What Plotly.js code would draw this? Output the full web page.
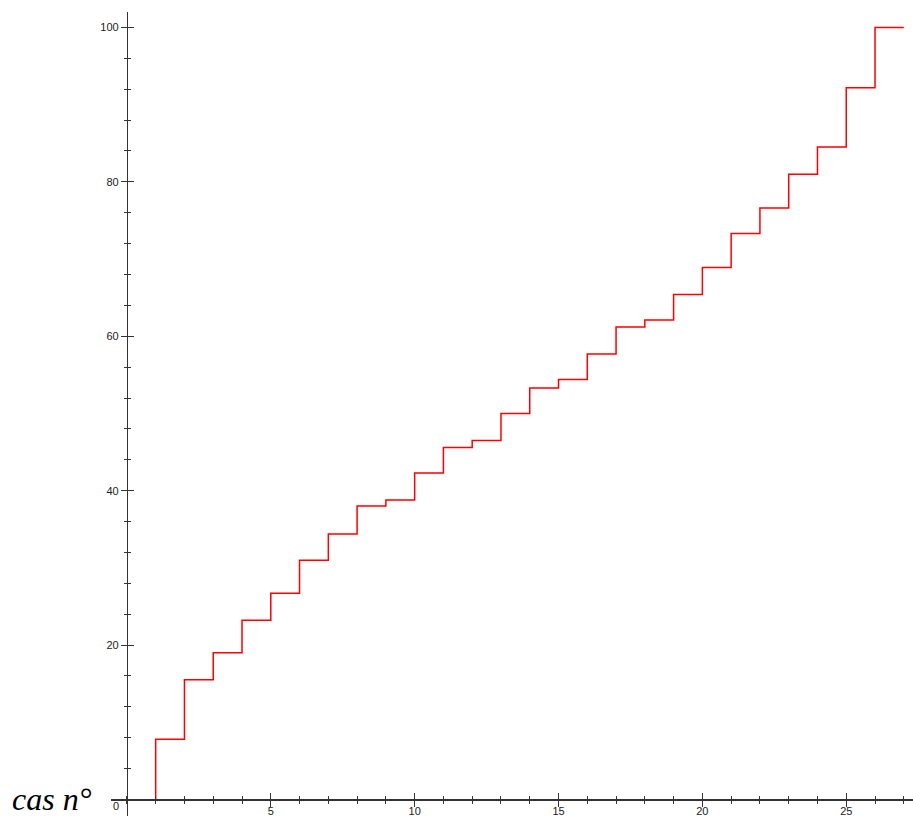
<!DOCTYPE html>
<html>
<head>
<meta charset="utf-8">
<script src="https://cdn.plot.ly/plotly-3.0.1.min.js"></script>
<style>
html,body{margin:0;padding:0;background:#ffffff;}
#chart{width:913px;height:816px;}
</style>
</head>
<body>
<div id="chart"></div>
<script>
// ---- data ----
const caseNumbers = [1,2,3,4,5,6,7,8,9,10,11,12,13,14,15,16,17,18,19,20,21,22,23,24,25,26];
const cumulativePercent = [7.8,15.5,19.0,23.2,26.7,31.0,34.4,38.0,38.8,42.3,45.6,46.5,50.0,
                           53.3,54.4,57.7,61.2,62.1,65.4,68.9,73.3,76.6,81.0,84.5,92.2,100];
const startLevel = 0;
const endCase = 27;
const xTickVals = [5,10,15,20,25];
const yTickVals = [20,40,60,80,100];
const originLabel = '0';
const cornerLabel = 'cas n°';

// ---- geometry / style ----
const xRange = [-0.553, 27.32];
const yRange = [-2.14, 102];
const xAxisPos = (0 - yRange[0]) / (yRange[1] - yRange[0]);
const yAxisPos = (0 - xRange[0]) / (xRange[1] - xRange[0]);
const axisColor = '#333333';
const tickFont = {family: 'Liberation Sans, Arial, sans-serif', size: 11, color: '#222222'};

const stepX = [caseNumbers[0]].concat(caseNumbers, [endCase]);
const stepY = [startLevel].concat(cumulativePercent, [cumulativePercent[cumulativePercent.length - 1]]);

const traces = [
  {
    x: stepX, y: stepY, type: 'scatter', mode: 'lines',
    line: {shape: 'hv', color: '#ff0000', width: 1.5},
    hoverinfo: 'skip', showlegend: false, cliponaxis: false
  },
  {
    x: stepX, y: stepY, type: 'scatter', mode: 'lines',
    xaxis: 'x2', yaxis: 'y2',
    line: {shape: 'hv', color: 'rgba(0,0,0,0)', width: 0},
    hoverinfo: 'skip', showlegend: false
  }
];

const commonX = {
  range: xRange, anchor: 'free', position: xAxisPos,
  showgrid: false, zeroline: false, fixedrange: true,
  tickmode: 'array', tickvals: xTickVals,
  ticklen: 6, tickwidth: 1, tickcolor: axisColor,
  tickfont: tickFont
};
const commonY = {
  range: yRange, anchor: 'free', position: yAxisPos,
  showgrid: false, zeroline: false, fixedrange: true,
  tickmode: 'array', tickvals: yTickVals,
  ticklen: 6, tickwidth: 1, tickcolor: axisColor,
  tickfont: tickFont
};

const layout = {
  width: 913, height: 816,
  margin: {l: 111, r: 0, t: 12, b: 0, pad: 0},
  paper_bgcolor: '#ffffff', plot_bgcolor: '#ffffff',
  showlegend: false,
  xaxis: Object.assign({}, commonX, {
    showline: true, linecolor: axisColor, linewidth: 1.5,
    ticks: 'outside', showticklabels: true, ticklabelstandoff: -5,
    minor: {tickmode: 'linear', tick0: 0, dtick: 1, ticks: 'outside', ticklen: 3, tickcolor: axisColor, tickwidth: 1}
  }),
  xaxis2: Object.assign({}, commonX, {
    overlaying: 'x', showline: false,
    ticks: 'inside', showticklabels: false,
    minor: {tickmode: 'linear', tick0: 0, dtick: 1, ticks: 'inside', ticklen: 3, tickcolor: axisColor, tickwidth: 1}
  }),
  yaxis: Object.assign({}, commonY, {
    showline: true, linecolor: axisColor, linewidth: 1.5,
    ticks: 'outside', showticklabels: true,
    minor: {tickmode: 'linear', tick0: 0, dtick: 4, ticks: 'outside', ticklen: 3, tickcolor: axisColor, tickwidth: 1}
  }),
  yaxis2: Object.assign({}, commonY, {
    overlaying: 'y', side: 'left', showline: false,
    ticks: 'inside', showticklabels: false,
    minor: {tickmode: 'linear', tick0: 0, dtick: 4, ticks: 'inside', ticklen: 3, tickcolor: axisColor, tickwidth: 1}
  }),
  annotations: [
    {
      text: originLabel, xref: 'x', yref: 'y', x: 0, y: 0,
      xanchor: 'right', yanchor: 'top', xshift: -6, yshift: 1,
      showarrow: false, font: tickFont
    },
    {
      text: cornerLabel, xref: 'paper', yref: 'paper',
      x: -0.126, y: -0.004, xanchor: 'left', yanchor: 'bottom',
      showarrow: false,
      font: {family: 'Liberation Serif, Times New Roman, serif', size: 32, color: '#000000', style: 'italic'}
    }
  ]
};

Plotly.newPlot('chart', traces, layout, {displayModeBar: false, staticPlot: true});
</script>
</body>
</html>
